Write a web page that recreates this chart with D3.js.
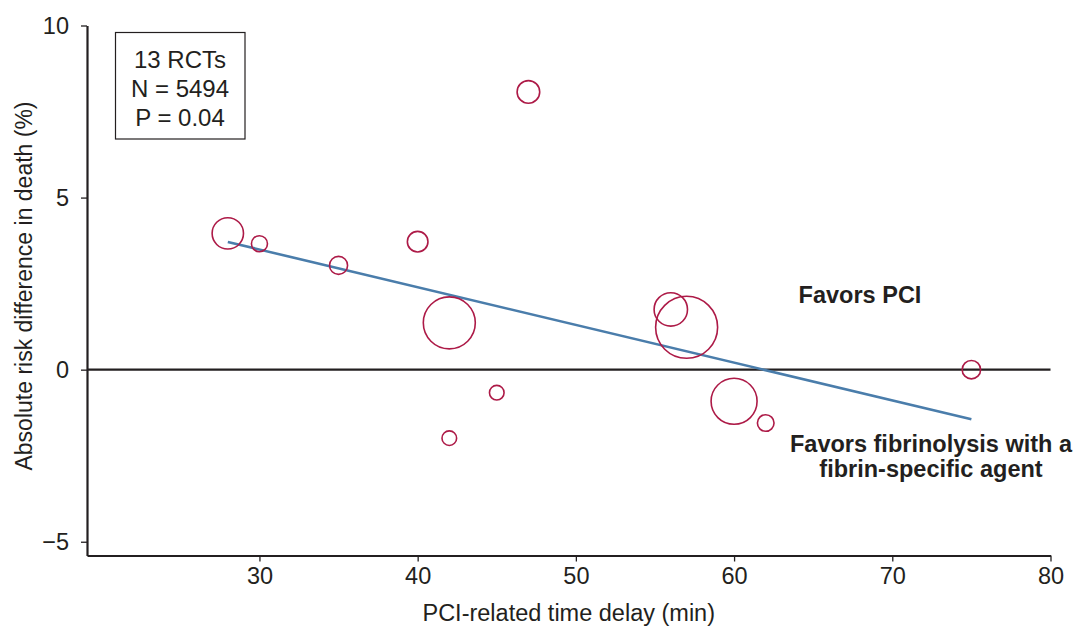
<!DOCTYPE html>
<html>
<head>
<meta charset="utf-8">
<script src="https://cdn.jsdelivr.net/npm/d3@7"></script>
<style>
  html, body { margin: 0; padding: 0; background: #ffffff; }
  svg { display: block; font-family: "Liberation Sans", Arial, Helvetica, sans-serif; }
</style>
</head>
<body>
<svg id="chart" width="1075" height="626"></svg>
<script>
// Trials: PCI-related delay (min) vs absolute risk difference in death (%)
const delayMin   = [28, 30, 35, 40, 42, 47, 45, 42, 56, 57, 60, 62, 75];
const riskDiff   = [3.96, 3.66, 3.03, 3.72, 1.36, 8.07, -0.67, -1.99, 1.75, 1.23, -0.92, -1.55, 0.0];
const trialSize  = [406, 106, 134, 175, 1115, 211, 88, 88, 460, 1585, 872, 114, 140];

// Meta-regression line end points
const fitDelay = [28, 75];
const fitRisk  = [3.71, -1.44];

const xTicks = [30, 40, 50, 60, 70, 80];
const yTicks = [-5, 0, 5, 10];

const summaryLines = ["13 RCTs", "N = 5494", "P = 0.04"];
const favorsPCI = ["Favors PCI"];
const favorsLysis = ["Favors fibrinolysis with a", "fibrin-specific agent"];

const ink = "#231f20";
const svg = d3.select("#chart");

const plot = { left: 87, right: 1050.5, top: 25.5, bottom: 555.5 };

const x = d3.scaleLinear().domain([19.1, 80]).range([plot.left, plot.right]);
const y = d3.scaleLinear().domain([-5.4, 10]).range([plot.bottom, plot.top]);
const r = d3.scaleSqrt().domain([0, d3.max(trialSize)]).range([0, 31]);

// Axes
const xAxis = d3.axisBottom(x).tickValues(xTicks).tickSize(6).tickSizeOuter(0).tickPadding(6)
  .tickFormat(d3.format("d"));
const yAxis = d3.axisLeft(y).tickValues(yTicks).tickSize(6).tickSizeOuter(0).tickPadding(12)
  .tickFormat(d3.format("d"));

const gx = svg.append("g").attr("transform", `translate(0,${plot.bottom})`).call(xAxis);
const gy = svg.append("g").attr("transform", `translate(${plot.left},0)`).call(yAxis);

[gx, gy].forEach(g => {
  g.select(".domain").attr("stroke", ink).attr("stroke-width", 2.2);
  g.selectAll(".tick line").attr("stroke", ink).attr("stroke-width", 1.3);
  g.selectAll(".tick text").attr("fill", ink).attr("font-size", 23.5)
    .attr("font-family", "Liberation Sans, Arial, sans-serif");
});

// Zero reference line
svg.append("line")
  .attr("x1", plot.left).attr("x2", plot.right)
  .attr("y1", y(0)).attr("y2", y(0))
  .attr("stroke", ink).attr("stroke-width", 2.2);

// Regression line
const fit = fitDelay.map((d, i) => [d, fitRisk[i]]);
svg.append("path")
  .datum(fit)
  .attr("fill", "none")
  .attr("stroke", "#4a7dab")
  .attr("stroke-width", 2.6)
  .attr("d", d3.line().x(d => x(d[0])).y(d => y(d[1])));

// Trial bubbles
const trials = delayMin.map((d, i) => ({ delay: d, diff: riskDiff[i], n: trialSize[i] }));
svg.append("g").selectAll("circle")
  .data(trials)
  .join("circle")
  .attr("cx", d => x(d.delay))
  .attr("cy", d => y(d.diff))
  .attr("r", d => r(d.n))
  .attr("fill", "none")
  .attr("stroke", "#ad1a47")
  .attr("stroke-width", 1.6);

// Summary box
svg.append("rect")
  .attr("x", 115.5).attr("y", 32.5).attr("width", 129.5).attr("height", 106.5)
  .attr("fill", "#ffffff").attr("stroke", ink).attr("stroke-width", 1.2);
svg.append("g").selectAll("text")
  .data(summaryLines)
  .join("text")
  .attr("x", 180)
  .attr("y", (d, i) => 68 + i * 29)
  .attr("text-anchor", "middle")
  .attr("font-size", 24)
  .attr("fill", ink)
  .text(d => d);

// Direction annotations
svg.append("g").selectAll("text")
  .data(favorsPCI)
  .join("text")
  .attr("x", 860).attr("y", 303)
  .attr("text-anchor", "middle")
  .attr("font-size", 23.5).attr("font-weight", "bold")
  .attr("fill", ink)
  .text(d => d);

svg.append("g").selectAll("text")
  .data(favorsLysis)
  .join("text")
  .attr("x", 931)
  .attr("y", (d, i) => 452 + i * 25)
  .attr("text-anchor", "middle")
  .attr("font-size", 23.5).attr("font-weight", "bold")
  .attr("fill", ink)
  .text(d => d);

// Axis titles
svg.append("text")
  .attr("x", (plot.left + plot.right) / 2).attr("y", 620.5)
  .attr("text-anchor", "middle")
  .attr("font-size", 23.5).attr("fill", ink)
  .text("PCI-related time delay (min)");

svg.append("text")
  .attr("transform", `translate(32,${(101 + 471) / 2}) rotate(-90)`)
  .attr("text-anchor", "middle")
  .attr("font-size", 23).attr("fill", ink)
  .text("Absolute risk difference in death (%)");
</script>
</body>
</html>
